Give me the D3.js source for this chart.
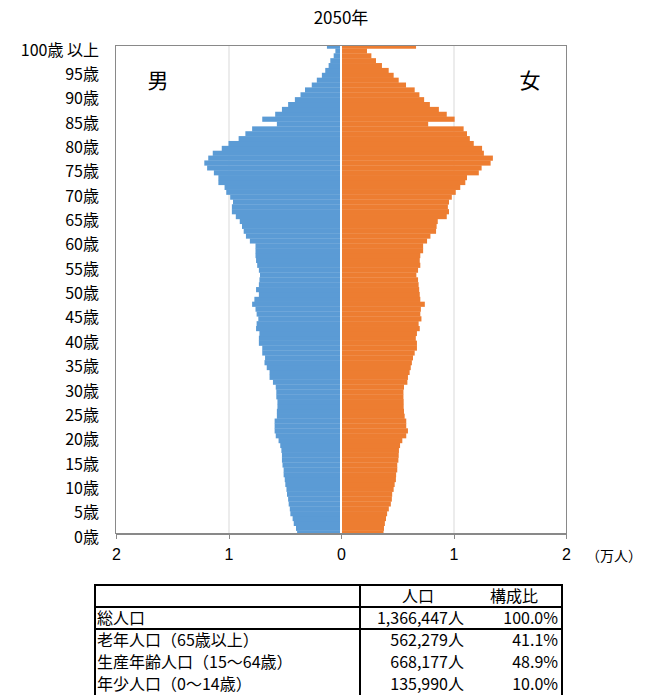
<!DOCTYPE html>
<html>

<head>
    <meta charset="utf-8">
    <script src="https://d3js.org/d3.v7.min.js"></script>
    <style>
        body {
            margin: 0;
            background: #fff;
            font-family: "Noto Sans CJK JP", "Noto Sans", sans-serif;
        }

        .frame {
            fill: none;
            stroke: #898989;
            stroke-width: 1px;
        }

        .grid line {
            stroke: #d9d9d9;
            stroke-width: 1px;
        }

        .axis path,
        .axis line {
            stroke: #898989;
            stroke-width: 1px;
            shape-rendering: crispEdges;
        }

        .axis text {
            font-size: 16px;
            fill: #000;
        }

        .tbl line {
            stroke: #000;
            stroke-width: 2px;
        }

        .tbl text {
            font-size: 16px;
            fill: #000;
        }
    </style>
</head>

<body>
    <svg width="647" height="695"></svg>
    <script>
        // ages 0..100 (100 = 100歳以上), values in 万人
        var ages = d3.range(0, 101);

        var male = [
            0.39, 0.40, 0.42, 0.43, 0.45, 0.455, 0.465, 0.47, 0.48, 0.485,
            0.495, 0.50, 0.51, 0.51, 0.52, 0.525, 0.525, 0.53, 0.54, 0.555,
            0.58, 0.59, 0.59, 0.59, 0.57, 0.57, 0.565, 0.565, 0.575, 0.575,
            0.58, 0.605, 0.635, 0.635, 0.66, 0.68, 0.675, 0.70, 0.70, 0.73,
            0.73, 0.725, 0.755, 0.75, 0.735, 0.75, 0.76, 0.79, 0.77, 0.73,
            0.755, 0.73, 0.725, 0.72, 0.73, 0.745, 0.755, 0.76, 0.76, 0.76,
            0.81, 0.845, 0.865, 0.88, 0.90, 0.935, 0.97, 0.97, 0.96, 0.985,
            1.02, 1.035, 1.09, 1.09, 1.13, 1.19, 1.215, 1.18, 1.14, 1.06,
            1.0, 0.91, 0.85, 0.79, 0.57, 0.70, 0.585, 0.525, 0.47, 0.41,
            0.36, 0.32, 0.26, 0.215, 0.17, 0.14, 0.11, 0.095, 0.065, 0.05, 0.125
        ];

        var female = [
            0.378, 0.382, 0.39, 0.40, 0.41, 0.425, 0.443, 0.452, 0.455, 0.468,
            0.477, 0.488, 0.49, 0.50, 0.50, 0.51, 0.513, 0.515, 0.525, 0.545,
            0.58, 0.595, 0.58, 0.58, 0.566, 0.56, 0.557, 0.557, 0.555, 0.555,
            0.56, 0.59, 0.595, 0.61, 0.62, 0.63, 0.64, 0.655, 0.675, 0.675,
            0.665, 0.675, 0.70, 0.69, 0.715, 0.705, 0.71, 0.745, 0.705, 0.70,
            0.695, 0.69, 0.685, 0.67, 0.685, 0.705, 0.70, 0.705, 0.73, 0.73,
            0.765, 0.795, 0.845, 0.85, 0.86, 0.94, 0.96, 0.95, 0.96, 0.985,
            1.02, 1.06, 1.105, 1.12, 1.225, 1.25, 1.33, 1.35, 1.27, 1.254,
            1.18, 1.145, 1.12, 1.09, 0.775, 1.01, 0.94, 0.87, 0.79, 0.739,
            0.697, 0.655, 0.578, 0.513, 0.468, 0.424, 0.364, 0.311, 0.27, 0.231, 0.667
        ];

        var ageTicks = d3.range(0, 101, 5);
        var ageLabel = function (a) {
            return a === 100 ? "100歳 以上" : a + "歳";
        };
        var xTicks = [-2, -1, 0, 1, 2];

        var tableHead = ["", "人口", "構成比"];
        var tableRows = ["総人口", "老年人口（65歳以上）", "生産年齢人口（15～64歳）", "年少人口（0～14歳）"];
        var tablePop = ["1,366,447人", "562,279人", "668,177人", "135,990人"];
        var tableShare = ["100.0%", "41.1%", "48.9%", "10.0%"];

        //------------------------------------------------------

        var svg = d3.select("svg"),
            pLeft = 116,
            pRight = 566,
            pTop = 46,
            pBottom = 533;

        var x = d3.scaleLinear().domain([-2, 2]).range([pLeft, pRight]);
        var y = d3.scaleLinear().domain([0, 100]).range([pBottom, pTop]);
        var barH = Math.abs(y(1) - y(0));

        svg.append("text")
            .attr("x", x(0))
            .attr("y", 24)
            .attr("text-anchor", "middle")
            .style("font-size", "17px")
            .text("2050年");

        svg.append("clipPath")
            .attr("id", "plot")
            .append("rect")
            .attr("x", pLeft)
            .attr("y", pTop)
            .attr("width", pRight - pLeft)
            .attr("height", pBottom - pTop);

        // grid
        svg.append("g")
            .attr("class", "grid")
            .selectAll("line")
            .data([-1, 1])
            .enter().append("line")
            .attr("x1", function (d) { return x(d) + 0.5; })
            .attr("x2", function (d) { return x(d) + 0.5; })
            .attr("y1", pTop)
            .attr("y2", pBottom);

        var bars = svg.append("g").attr("clip-path", "url(#plot)");

        bars.selectAll(".male")
            .data(ages)
            .enter().append("rect")
            .attr("class", "male")
            .attr("x", function (a) { return x(-male[a]); })
            .attr("y", function (a) { return y(a) - barH / 2; })
            .attr("width", function (a) { return x(0) - x(-male[a]); })
            .attr("height", barH + 0.3)
            .attr("fill", "#5b9bd5");

        bars.selectAll(".female")
            .data(ages)
            .enter().append("rect")
            .attr("class", "female")
            .attr("x", x(0))
            .attr("y", function (a) { return y(a) - barH / 2; })
            .attr("width", function (a) { return x(female[a]) - x(0); })
            .attr("height", barH + 0.3)
            .attr("fill", "#ed7d31");

        // white centre axis
        svg.append("line")
            .attr("x1", x(0))
            .attr("x2", x(0))
            .attr("y1", pTop)
            .attr("y2", pBottom)
            .attr("stroke", "#fff")
            .attr("stroke-width", 2);

        svg.append("rect")
            .attr("class", "frame")
            .attr("x", pLeft - 0.5)
            .attr("y", pTop - 0.5)
            .attr("width", pRight - pLeft + 1)
            .attr("height", pBottom - pTop + 1);

        var xAxis = svg.append("g")
            .attr("class", "axis")
            .attr("transform", "translate(0," + (pBottom + 0.5) + ")")
            .call(d3.axisBottom(x).tickValues(xTicks).tickSize(5).tickSizeOuter(5)
                .tickFormat(function (d) { return Math.abs(d); }));
        xAxis.selectAll("text").attr("dy", "1.0em").attr("y", 10);

        svg.append("text")
            .attr("x", 586)
            .attr("y", 561)
            .style("font-size", "14px")
            .text("（万人）");

        svg.append("g")
            .selectAll("text")
            .data(ageTicks)
            .enter().append("text")
            .attr("x", 99)
            .attr("y", function (a) { return y(a) + 4; })
            .attr("dy", "0.35em")
            .attr("text-anchor", "end")
            .style("font-size", "16px")
            .text(ageLabel);

        svg.append("text")
            .attr("x", 158)
            .attr("y", 81)
            .attr("dy", "0.35em")
            .attr("text-anchor", "middle")
            .style("font-size", "21px")
            .text("男");

        svg.append("text")
            .attr("x", 530)
            .attr("y", 81)
            .attr("dy", "0.35em")
            .attr("text-anchor", "middle")
            .style("font-size", "21px")
            .text("女");

        // table
        var tx0 = 95, tx1 = 360, tx2 = 562, ty0 = 585, rowH = 22;
        var tbl = svg.append("g").attr("class", "tbl");

        [0, 1, 2].forEach(function (i) {
            tbl.append("line")
                .attr("x1", tx0 - 1).attr("x2", tx2 + 1)
                .attr("y1", ty0 + i * rowH).attr("y2", ty0 + i * rowH);
        });
        [tx0, tx1, tx2].forEach(function (xx) {
            tbl.append("line")
                .attr("x1", xx).attr("x2", xx)
                .attr("y1", ty0).attr("y2", ty0 + rowH * 5 + 2);
        });

        tbl.append("text")
            .attr("x", 418).attr("y", ty0 + rowH / 2)
            .attr("dy", "0.36em").attr("text-anchor", "middle")
            .text(tableHead[1]);
        tbl.append("text")
            .attr("x", 514).attr("y", ty0 + rowH / 2)
            .attr("dy", "0.36em").attr("text-anchor", "middle")
            .text(tableHead[2]);

        tableRows.forEach(function (r, i) {
            var yy = ty0 + rowH * (i + 1) + rowH / 2;
            tbl.append("text").attr("x", 97).attr("y", yy).attr("dy", "0.36em").text(r);
            tbl.append("text").attr("x", 464).attr("y", yy).attr("dy", "0.36em")
                .attr("text-anchor", "end").text(tablePop[i]);
            tbl.append("text").attr("x", 558).attr("y", yy).attr("dy", "0.36em")
                .attr("text-anchor", "end").text(tableShare[i]);
        });
    </script>
</body>

</html>
